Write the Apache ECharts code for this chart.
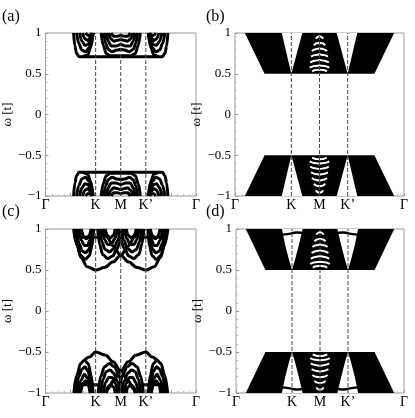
<!DOCTYPE html>
<html>
<head>
<meta charset="utf-8">
<script src="https://cdn.jsdelivr.net/npm/echarts@6/dist/echarts.min.js"></script>
<style>
html,body{margin:0;padding:0;background:#fff}
#chart{width:415px;height:418px}
</style>
</head>
<body>
<div id="chart"></div>
<script>
// path along the zone: Γ=0, K=2, M=3, K'=4, Γ=6
var kTicks = [0, 2, 3, 4, 6];
var kLabels = ['Γ', 'K', 'M', 'K’', 'Γ'];
var kDashed = [2, 3, 4];
var panelNames = ['(a)', '(b)', '(c)', '(d)'];

// (a) bands
var aUpper = [
  [[1.12,1],[1.17,0.84],[1.24,0.75],[1.34,0.71],[4.66,0.71],[4.76,0.75],[4.83,0.84],[4.88,1]],
  [[1.24,1],[1.33,0.87],[1.45,0.79],[1.6,0.77],[1.74,0.82],[1.85,0.92],[1.9,1]],
  [[1.36,1],[1.45,0.9],[1.57,0.85],[1.7,0.86],[1.8,0.92],[1.87,1]],
  [[1.48,1],[1.57,0.93],[1.68,0.91],[1.78,0.94],[1.85,1]],
  [[1.6,1],[1.7,0.97],[1.8,0.98],[1.84,1]],
  [[1.5,0.71],[1.68,0.73],[1.8,0.82],[1.9,1]],
  [[4.1,1],[4.2,0.82],[4.32,0.73],[4.5,0.71]],
  [[4.1,1],[4.15,0.92],[4.26,0.82],[4.4,0.77],[4.55,0.79],[4.67,0.87],[4.76,1]],
  [[4.13,1],[4.2,0.92],[4.3,0.86],[4.43,0.85],[4.55,0.9],[4.64,1]],
  [[4.15,1],[4.22,0.94],[4.32,0.91],[4.43,0.93],[4.52,1]],
  [[4.16,1],[4.2,0.98],[4.3,0.97],[4.4,1]],
  [[2.22,1],[2.3,0.85],[2.42,0.75],[2.6,0.72],[3.4,0.72],[3.58,0.75],[3.7,0.85],[3.78,1]],
  [[2.33,1],[2.4,0.87],[2.5,0.8],[2.65,0.77],[2.85,0.79],[3,0.8],[3.15,0.79],[3.35,0.77],[3.5,0.8],[3.6,0.87],[3.67,1]],
  [[2.43,1],[2.5,0.9],[2.62,0.84],[2.8,0.84],[3,0.86],[3.2,0.84],[3.38,0.84],[3.5,0.9],[3.57,1]],
  [[2.52,1],[2.6,0.93],[2.72,0.9],[2.88,0.91],[3,0.92],[3.12,0.91],[3.28,0.9],[3.4,0.93],[3.48,1]],
  [[2.62,1],[2.72,0.96],[2.86,0.96],[3,0.97],[3.14,0.96],[3.28,0.96],[3.38,1]]
];
var aLower = [
  [[1.12,-1],[1.17,-0.84],[1.24,-0.75],[1.34,-0.71],[4.66,-0.71],[4.76,-0.75],[4.83,-0.84],[4.88,-1]],
  [[1.24,-1],[1.33,-0.87],[1.45,-0.79],[1.6,-0.77],[1.74,-0.82],[1.85,-0.92],[1.9,-1]],
  [[1.36,-1],[1.45,-0.9],[1.57,-0.85],[1.7,-0.86],[1.8,-0.92],[1.87,-1]],
  [[1.48,-1],[1.57,-0.93],[1.68,-0.91],[1.78,-0.94],[1.85,-1]],
  [[1.6,-1],[1.7,-0.97],[1.8,-0.98],[1.84,-1]],
  [[1.5,-0.71],[1.68,-0.73],[1.8,-0.82],[1.9,-1]],
  [[4.1,-1],[4.2,-0.82],[4.32,-0.73],[4.5,-0.71]],
  [[4.1,-1],[4.15,-0.92],[4.26,-0.82],[4.4,-0.77],[4.55,-0.79],[4.67,-0.87],[4.76,-1]],
  [[4.13,-1],[4.2,-0.92],[4.3,-0.86],[4.43,-0.85],[4.55,-0.9],[4.64,-1]],
  [[4.15,-1],[4.22,-0.94],[4.32,-0.91],[4.43,-0.93],[4.52,-1]],
  [[4.16,-1],[4.2,-0.98],[4.3,-0.97],[4.4,-1]],
  [[2.22,-1],[2.3,-0.85],[2.42,-0.75],[2.6,-0.72],[3.4,-0.72],[3.58,-0.75],[3.7,-0.85],[3.78,-1]],
  [[2.33,-1],[2.4,-0.87],[2.5,-0.8],[2.65,-0.77],[2.85,-0.79],[3,-0.8],[3.15,-0.79],[3.35,-0.77],[3.5,-0.8],[3.6,-0.87],[3.67,-1]],
  [[2.43,-1],[2.5,-0.9],[2.62,-0.84],[2.8,-0.84],[3,-0.86],[3.2,-0.84],[3.38,-0.84],[3.5,-0.9],[3.57,-1]],
  [[2.52,-1],[2.6,-0.93],[2.72,-0.9],[2.88,-0.91],[3,-0.92],[3.12,-0.91],[3.28,-0.9],[3.4,-0.93],[3.48,-1]],
  [[2.62,-1],[2.72,-0.96],[2.86,-0.96],[3,-0.97],[3.14,-0.96],[3.28,-0.96],[3.38,-1]]
];

// (c) bands: two arcs from K and K' crossing at M, nested lobes, flat states at ±0.9
var cUpper = [
  [[1.12,1],[1.25,0.81],[1.42,0.65],[1.66,0.54],[2,0.5],[2.35,0.53],[2.7,0.6],[3,0.68],[3.3,0.79],[3.55,0.9],[3.72,1]],
  [[4.88,1],[4.75,0.81],[4.58,0.65],[4.34,0.54],[4,0.5],[3.65,0.53],[3.3,0.6],[3,0.68],[2.7,0.79],[2.45,0.9],[2.28,1]],
  [[1.16,1],[1.26,0.8],[1.4,0.68],[1.58,0.63],[1.74,0.67],[1.85,0.78],[1.92,1]],
  [[1.24,1],[1.34,0.82],[1.47,0.73],[1.6,0.71],[1.73,0.75],[1.83,0.85],[1.89,1]],
  [[1.33,1],[1.43,0.86],[1.55,0.8],[1.67,0.8],[1.78,0.87],[1.86,1]],
  [[1.43,1],[1.52,0.91],[1.63,0.88],[1.74,0.92],[1.82,1]],
  [[4.08,1],[4.15,0.78],[4.26,0.67],[4.42,0.63],[4.6,0.68],[4.74,0.8],[4.84,1]],
  [[4.11,1],[4.17,0.85],[4.27,0.75],[4.4,0.71],[4.53,0.73],[4.66,0.82],[4.76,1]],
  [[4.14,1],[4.22,0.87],[4.33,0.8],[4.45,0.8],[4.57,0.86],[4.67,1]],
  [[4.18,1],[4.26,0.92],[4.37,0.88],[4.48,0.91],[4.57,1]],
  [[2.08,1],[2.15,0.82],[2.28,0.69],[2.48,0.64],[2.68,0.67],[2.85,0.76],[3,0.86],[3.12,1]],
  [[2.17,1],[2.25,0.84],[2.38,0.75],[2.55,0.72],[2.72,0.76],[2.88,0.86],[2.98,1]],
  [[2.27,1],[2.35,0.87],[2.48,0.81],[2.62,0.81],[2.76,0.88],[2.86,1]],
  [[2.38,1],[2.47,0.92],[2.58,0.89],[2.7,0.92],[2.78,1]],
  [[3.92,1],[3.85,0.82],[3.72,0.69],[3.52,0.64],[3.32,0.67],[3.15,0.76],[3,0.86],[2.88,1]],
  [[3.83,1],[3.75,0.84],[3.62,0.75],[3.45,0.72],[3.28,0.76],[3.12,0.86],[3.02,1]],
  [[3.73,1],[3.65,0.87],[3.52,0.81],[3.38,0.81],[3.24,0.88],[3.14,1]],
  [[3.62,1],[3.53,0.92],[3.42,0.89],[3.3,0.92],[3.22,1]],
  [[1.12,0.9],[2.2,0.9]],
  [[3.8,0.9],[4.88,0.9]]
];
var cLower = [
  [[1.13,-1],[1.25,-0.78],[1.4,-0.64],[1.55,-0.6],[1.7,-0.64],[1.82,-0.78],[1.9,-1]],
  [[1.22,-1],[1.33,-0.8],[1.45,-0.71],[1.57,-0.68],[1.69,-0.73],[1.8,-0.86],[1.86,-1]],
  [[1.31,-1],[1.42,-0.84],[1.55,-0.77],[1.68,-0.82],[1.78,-0.93],[1.82,-1]],
  [[1.4,-1],[1.5,-0.88],[1.6,-0.85],[1.7,-0.9],[1.78,-1]],
  [[4.87,-1],[4.75,-0.78],[4.6,-0.64],[4.45,-0.6],[4.3,-0.64],[4.18,-0.78],[4.1,-1]],
  [[4.78,-1],[4.67,-0.8],[4.55,-0.71],[4.43,-0.68],[4.31,-0.73],[4.2,-0.86],[4.14,-1]],
  [[4.69,-1],[4.58,-0.84],[4.45,-0.77],[4.32,-0.82],[4.22,-0.93],[4.18,-1]],
  [[4.6,-1],[4.5,-0.88],[4.4,-0.85],[4.3,-0.9],[4.22,-1]],
  [[1.55,-0.6],[1.75,-0.56],[2,-0.5],[2.4,-0.54],[2.7,-0.62],[3,-0.73],[3.3,-0.85],[3.5,-0.95],[3.58,-1]],
  [[4.45,-0.6],[4.25,-0.56],[4,-0.5],[3.6,-0.54],[3.3,-0.62],[3,-0.73],[2.7,-0.85],[2.5,-0.95],[2.42,-1]],
  [[2.1,-1],[2.2,-0.8],[2.35,-0.68],[2.55,-0.64],[2.75,-0.68],[2.92,-0.78],[3.05,-0.9],[3.12,-1]],
  [[2.2,-1],[2.3,-0.83],[2.42,-0.74],[2.57,-0.72],[2.72,-0.76],[2.87,-0.86],[2.97,-1]],
  [[2.3,-1],[2.4,-0.87],[2.52,-0.81],[2.65,-0.81],[2.78,-0.88],[2.87,-1]],
  [[2.4,-1],[2.5,-0.92],[2.6,-0.9],[2.72,-0.93],[2.78,-1]],
  [[3.9,-1],[3.8,-0.8],[3.65,-0.68],[3.45,-0.64],[3.25,-0.68],[3.08,-0.78],[2.95,-0.9],[2.88,-1]],
  [[3.8,-1],[3.7,-0.83],[3.58,-0.74],[3.43,-0.72],[3.28,-0.76],[3.13,-0.86],[3.03,-1]],
  [[3.7,-1],[3.6,-0.87],[3.48,-0.81],[3.35,-0.81],[3.22,-0.88],[3.13,-1]],
  [[3.6,-1],[3.5,-0.92],[3.4,-0.9],[3.28,-0.93],[3.22,-1]],
  [[1.12,-0.9],[2.2,-0.9]],
  [[3.8,-0.9],[4.88,-0.9]]
];

// (b) and (d): filled continua, white notches at K/K', white gaps near M
var bUpperEdge = [[0.35,1],[1.05,0.5],[4.95,0.5],[5.65,1]];
var bLowerEdge = [[0.35,-1],[1.05,-0.5],[4.95,-0.5],[5.65,-1]];
var bUpperNotch = [
  [[1.66,1],[2,0.5],[2.39,1]],
  [[3.61,1],[4,0.5],[4.34,1]]
];
var bLowerNotch = [
  [[1.66,-1],[2,-0.5],[2.39,-1]],
  [[3.61,-1],[4,-0.5],[4.34,-1]]
];
var dUpperNotch = [
  [[1.64,1],[1.76,0.8],[1.88,0.64],[2,0.5],[2.12,0.64],[2.24,0.8],[2.38,1]],
  [[3.62,1],[3.76,0.8],[3.88,0.64],[4,0.5],[4.12,0.64],[4.24,0.8],[4.36,1]]
];
var dLowerNotch = [
  [[1.64,-1],[1.76,-0.8],[1.88,-0.64],[2,-0.5],[2.12,-0.64],[2.24,-0.8],[2.38,-1]],
  [[3.62,-1],[3.76,-0.8],[3.88,-0.64],[4,-0.5],[4.12,-0.64],[4.24,-0.8],[4.36,-1]]
];
var mUpperGaps = [
  [[2.87,0.93],[2.94,0.955],[3,0.96],[3.06,0.955],[3.13,0.93]],
  [[2.8,0.85],[2.9,0.873],[3,0.88],[3.1,0.873],[3.2,0.85]],
  [[2.73,0.78],[2.86,0.802],[3,0.81],[3.14,0.802],[3.27,0.78]],
  [[2.7,0.71],[2.85,0.73],[3,0.738],[3.15,0.73],[3.3,0.71]],
  [[2.67,0.64],[2.83,0.66],[3,0.668],[3.17,0.66],[3.33,0.64]],
  [[2.65,0.575],[2.82,0.595],[3,0.602],[3.18,0.595],[3.35,0.575]],
  [[2.74,0.53],[2.87,0.545],[3,0.55],[3.13,0.545],[3.26,0.53]]
];
var mLowerGaps = [
  [[2.87,-0.93],[2.94,-0.955],[3,-0.96],[3.06,-0.955],[3.13,-0.93]],
  [[2.8,-0.85],[2.9,-0.873],[3,-0.88],[3.1,-0.873],[3.2,-0.85]],
  [[2.73,-0.78],[2.86,-0.802],[3,-0.81],[3.14,-0.802],[3.27,-0.78]],
  [[2.7,-0.71],[2.85,-0.73],[3,-0.738],[3.15,-0.73],[3.3,-0.71]],
  [[2.67,-0.64],[2.83,-0.66],[3,-0.668],[3.17,-0.66],[3.33,-0.64]],
  [[2.65,-0.575],[2.82,-0.595],[3,-0.602],[3.18,-0.595],[3.35,-0.575]],
  [[2.74,-0.53],[2.87,-0.545],[3,-0.55],[3.13,-0.545],[3.26,-0.53]]
];
// (d) extra states near the top/bottom of the K notches
var dEdgeStates = [
  [[1.58,0.93],[1.75,0.935],[1.9,0.94],[2,0.95],[2.15,0.958],[2.3,0.955],[2.44,0.95]],
  [[3.56,0.95],[3.7,0.955],[3.85,0.958],[4,0.95],[4.1,0.94],[4.25,0.935],[4.42,0.93]],
  [[1.58,-0.93],[1.75,-0.935],[1.9,-0.94],[2,-0.95],[2.15,-0.958],[2.3,-0.955],[2.44,-0.95]],
  [[3.56,-0.95],[3.7,-0.955],[3.85,-0.958],[4,-0.95],[4.1,-0.94],[4.25,-0.935],[4.42,-0.93]]
];

var serif = 'Liberation Serif';
var grids = [
  {left: 28, top: 33, width: 168, height: 163},
  {left: 235, top: 33, width: 169, height: 163},
  {left: 28, top: 229, width: 168, height: 164},
  {left: 236, top: 229, width: 168, height: 164}
];

function lines(list, gi, color, width) {
  return list.map(function (pts) {
    return {
      type: 'line', xAxisIndex: gi, yAxisIndex: gi, data: pts,
      showSymbol: false, smooth: 0.35, smoothMonotone: 'x', silent: true, z: 3,
      lineStyle: {color: color, width: width}
    };
  });
}
function areas(list, gi, color, origin, z) {
  return list.map(function (pts) {
    return {
      type: 'line', xAxisIndex: gi, yAxisIndex: gi, data: pts,
      showSymbol: false, silent: true, z: z,
      lineStyle: {width: 0},
      areaStyle: {color: color, origin: origin, opacity: 1}
    };
  });
}
function dashes(gi) {
  return kDashed.map(function (k) {
    return {
      type: 'line', xAxisIndex: gi, yAxisIndex: gi, data: [[k, -1], [k, 1]],
      showSymbol: false, silent: true, z: 5,
      lineStyle: {color: '#444', width: 1, type: [4, 2]}
    };
  });
}

var series = [];
series = series.concat(lines(aUpper, 0, '#000', 3), lines(aLower, 0, '#000', 3));
series = series.concat(
  areas([bUpperEdge], 1, '#000', 'end', 1), areas([bLowerEdge], 1, '#000', 'start', 1),
  areas(bUpperNotch, 1, '#fff', 'end', 2), areas(bLowerNotch, 1, '#fff', 'start', 2),
  lines(mUpperGaps, 1, '#fff', 2), lines(mLowerGaps, 1, '#fff', 2)
);
series = series.concat(lines(cUpper, 2, '#000', 3), lines(cLower, 2, '#000', 3));
series = series.concat(
  areas([bUpperEdge], 3, '#000', 'end', 1), areas([bLowerEdge], 3, '#000', 'start', 1),
  areas(dUpperNotch, 3, '#fff', 'end', 2), areas(dLowerNotch, 3, '#fff', 'start', 2),
  lines(mUpperGaps, 3, '#fff', 2), lines(mLowerGaps, 3, '#fff', 2),
  lines(dEdgeStates, 3, '#000', 2.4)
);
[0, 1, 2, 3].forEach(function (gi) { series = series.concat(dashes(gi)); });

var option = {
  animation: false,
  grid: grids.map(function (g) {
    return Object.assign({show: true, borderColor: '#9a9a9a', borderWidth: 1, backgroundColor: '#fff'}, g);
  }),
  xAxis: grids.map(function (g, i) {
    return {
      type: 'value', gridIndex: i, min: 0, max: 6, interval: 1,
      axisLine: {show: false, onZero: false}, splitLine: {show: false},
      axisTick: {show: true, inside: true, length: 3, lineStyle: {color: '#9a9a9a'}},
      minorTick: {show: true, splitNumber: 4, length: 2, lineStyle: {color: '#bbb'}},
      axisLabel: {
        margin: 2, color: '#000', fontFamily: serif, fontSize: 14,
        formatter: function (v) { var j = kTicks.indexOf(v); return j < 0 ? '' : kLabels[j]; }
      }
    };
  }),
  yAxis: grids.map(function (g, i) {
    return {
      type: 'value', gridIndex: i, min: -1, max: 1, interval: 0.5,
      name: 'ω [t]', nameLocation: 'middle', nameGap: 19, nameRotate: 90,
      nameTextStyle: {fontFamily: serif, fontSize: 13, color: '#000'},
      axisLine: {show: false, onZero: false}, splitLine: {show: false},
      axisTick: {show: true, inside: true, length: 3, lineStyle: {color: '#9a9a9a'}},
      minorTick: {show: true, splitNumber: 5, length: 2, lineStyle: {color: '#bbb'}},
      axisLabel: {
        margin: 4, color: '#000', fontFamily: serif, fontSize: 13,
        formatter: function (v) { return v < 0 ? '−' + (-v) : String(v); }
      }
    };
  }),
  graphic: panelNames.map(function (t, i) {
    return {
      type: 'text', left: i % 2 ? 206 : 2, top: i < 2 ? 9 : 204,
      style: {text: t, font: '16px "Liberation Serif"', fill: '#000'}
    };
  }),
  series: series
};

var chart = echarts.init(document.getElementById('chart'), null, {renderer: 'canvas'});
chart.setOption(option);
</script>
</body>
</html>
